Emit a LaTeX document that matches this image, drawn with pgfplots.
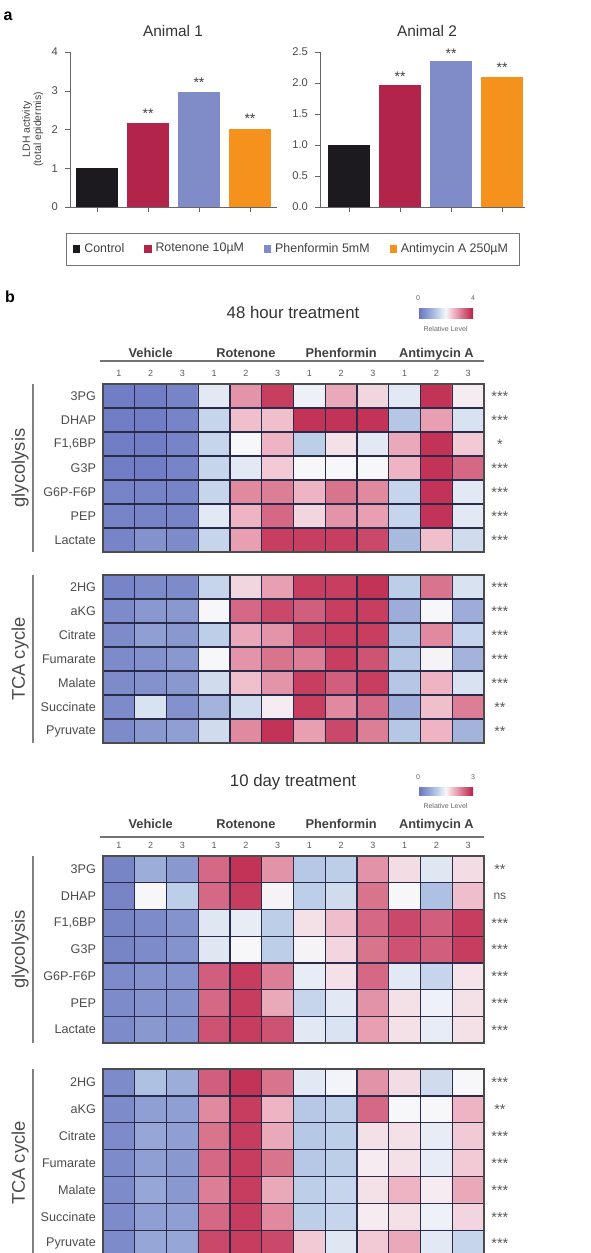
\documentclass[border=0pt]{standalone}
\usepackage{fontspec}
\setmainfont{Liberation Sans}
\usepackage{pgfplots}
\usepackage{pgfplotstable}
\pgfplotsset{compat=1.18}
\pgfkeys{/pgf/number format/assume math mode=true}
\definecolor{cCtrl}{RGB}{28,26,30}
\definecolor{cRot}{RGB}{178,36,74}
\definecolor{cPhe}{RGB}{128,140,200}
\definecolor{cAnt}{RGB}{245,146,30}
\definecolor{gridc}{RGB}{40,42,72}
\newcommand{\fs}[1]{\fontsize{#1}{#1}\selectfont}
\newcommand{\st}[2]{\node[font=\fs{7.2},text=black!65,yshift=-0.2pt] at (axis cs:12.0,#1) {#2};}
\newcommand{\grp}[1]{%
\node[font=\bfseries\fs{6.4}, text=black!75, anchor=base] at ([yshift=#1]axis cs:1,6.5) {Vehicle};
\node[font=\bfseries\fs{6.4}, text=black!75, anchor=base] at ([yshift=#1]axis cs:4,6.5) {Rotenone};
\node[font=\bfseries\fs{6.4}, text=black!75, anchor=base] at ([yshift=#1]axis cs:7,6.5) {Phenformin};
\node[font=\bfseries\fs{6.4}, text=black!75, anchor=base] at ([yshift=#1]axis cs:10,6.5) {Antimycin A};}

% 48 hour treatment, glycolysis (rows top to bottom: 3PG DHAP F1,6BP G3P G6P-F6P PEP Lactate)
\pgfplotstableread[row sep=\\]{
c\\
0.2\\0.2\\0.3\\1.8\\2.9\\3.7\\1.9\\2.7\\2.3\\1.8\\3.8\\2.1\\
0.2\\0.2\\0.3\\1.5\\2.5\\2.5\\3.8\\3.8\\3.8\\1.3\\2.8\\1.7\\
0.2\\0.2\\0.3\\1.5\\2.0\\2.6\\1.4\\2.2\\1.8\\2.7\\3.8\\2.4\\
0.2\\0.2\\0.3\\1.5\\1.8\\2.4\\2.0\\2.0\\2.0\\2.6\\3.8\\3.3\\
0.3\\0.3\\0.3\\1.5\\3.0\\3.1\\2.6\\3.2\\3.0\\1.5\\3.8\\1.8\\
0.3\\0.3\\0.3\\1.8\\2.6\\3.3\\2.3\\2.9\\2.8\\1.5\\3.8\\1.8\\
0.3\\0.5\\0.4\\1.5\\2.8\\3.7\\3.7\\3.7\\3.6\\1.1\\2.5\\1.6\\
}\tGa
% 48 hour treatment, TCA cycle (2HG aKG Citrate Fumarate Malate Succinate Pyruvate)
\pgfplotstableread[row sep=\\]{
c\\
0.3\\0.4\\0.4\\1.5\\2.3\\2.8\\3.7\\3.7\\3.8\\1.4\\3.2\\1.7\\
0.4\\0.6\\0.6\\2.0\\3.3\\3.6\\3.4\\3.7\\3.7\\0.9\\2.0\\0.9\\
0.4\\0.7\\0.6\\1.4\\2.7\\2.9\\3.6\\3.7\\3.7\\1.2\\3.0\\1.5\\
0.4\\0.5\\0.6\\2.0\\2.9\\3.2\\3.1\\3.7\\3.5\\1.3\\2.04\\1.0\\
0.4\\0.5\\0.6\\1.6\\2.5\\2.9\\3.7\\3.4\\3.7\\1.3\\2.6\\1.7\\
0.4\\1.7\\0.5\\1.0\\1.6\\2.1\\3.7\\3.0\\3.3\\0.9\\2.5\\3.1\\
0.4\\0.6\\0.7\\1.6\\3.0\\3.8\\2.8\\3.6\\3.1\\1.3\\2.6\\1.0\\
}\tTa
% 10 day treatment, glycolysis
\pgfplotstableread[row sep=\\]{
c\\
0.23\\0.68\\0.45\\2.48\\2.85\\2.18\\0.98\\1.05\\2.18\\1.68\\1.32\\1.68\\
0.23\\1.5\\1.05\\2.48\\2.78\\1.53\\1.05\\1.2\\2.4\\1.5\\0.9\\1.88\\
0.23\\0.3\\0.38\\1.32\\1.38\\1.05\\1.65\\1.88\\2.48\\2.7\\2.55\\2.78\\
0.23\\0.3\\0.38\\1.32\\1.5\\1.05\\1.53\\1.73\\2.4\\2.63\\2.55\\2.78\\
0.3\\0.38\\0.38\\2.55\\2.78\\2.33\\1.38\\1.65\\2.48\\1.35\\1.13\\1.62\\
0.3\\0.38\\0.38\\2.48\\2.78\\2.03\\1.13\\1.35\\2.18\\1.65\\1.43\\1.65\\
0.3\\0.45\\0.38\\2.63\\2.78\\2.63\\1.35\\1.28\\2.1\\1.65\\1.38\\1.65\\
}\tGb
% 10 day treatment, TCA cycle
\pgfplotstableread[row sep=\\]{
c\\
0.3\\0.9\\0.68\\2.55\\2.85\\2.4\\1.35\\1.47\\2.18\\1.68\\1.2\\1.5\\
0.3\\0.53\\0.53\\2.25\\2.78\\1.95\\0.98\\1.05\\2.48\\1.5\\1.5\\1.95\\
0.3\\0.6\\0.53\\2.4\\2.78\\2.03\\0.98\\1.05\\1.65\\1.65\\1.38\\1.8\\
0.3\\0.53\\0.45\\2.48\\2.78\\2.4\\0.98\\1.05\\1.58\\1.65\\1.38\\1.8\\
0.3\\0.6\\0.45\\2.33\\2.78\\2.03\\1.05\\1.13\\1.65\\1.95\\1.58\\2.03\\
0.3\\0.53\\0.53\\2.48\\2.78\\2.25\\1.05\\1.13\\1.58\\1.65\\1.43\\1.73\\
0.3\\0.6\\0.6\\2.7\\2.78\\2.7\\1.8\\1.32\\1.8\\2.03\\1.35\\1.13\\
}\tTb
% cell positions: column index and row (top row = 6)
\pgfplotstablecreatecol[expr={mod(\pgfplotstablerow,12)}]{x}\tGa
\pgfplotstablecreatecol[expr={6-floor(\pgfplotstablerow/12)}]{y}\tGa
\pgfplotstablecreatecol[expr={mod(\pgfplotstablerow,12)}]{x}\tTa
\pgfplotstablecreatecol[expr={6-floor(\pgfplotstablerow/12)}]{y}\tTa
\pgfplotstablecreatecol[expr={mod(\pgfplotstablerow,12)}]{x}\tGb
\pgfplotstablecreatecol[expr={6-floor(\pgfplotstablerow/12)}]{y}\tGb
\pgfplotstablecreatecol[expr={mod(\pgfplotstablerow,12)}]{x}\tTb
\pgfplotstablecreatecol[expr={6-floor(\pgfplotstablerow/12)}]{y}\tTb

\pgfplotsset{
  lg/.style={legend image code/.code={\fill[##1] (0pt,-1.8pt) rectangle (3.6pt,1.8pt);}},
  bars/.style={scale only axis, anchor=south west, height=77.5pt, ymin=0,
    enlargelimits=false, xtick={0,1,2,3}, xticklabels={},
    axis x line*=bottom, axis y line*=left, tick align=outside,
    major tick length=2.5pt, axis line style={draw=black!60},
    tick style={draw=black!60}, yticklabel style={font=\fs{5.6}, text=black!70},
    ybar, bar width=21pt, clip=false},
  hm/.style={scale only axis, anchor=south west, width=190.5pt,
    xmin=-0.5, xmax=11.5, ymin=-0.5, ymax=6.5, enlargelimits=false,
    axis on top, clip=false, xtick={0,...,11}, ytick={0,...,6},
    major tick length=0pt, minor tick length=0pt,
    minor xtick={0.5,1.5,...,10.5}, minor ytick={0.5,1.5,...,5.5},
    grid=minor, minor grid style={draw=gridc, line width=0.65pt},
    axis line style={draw=black!70, line width=0.7pt},
    yticklabel style={font=\fs{6.3}, text=black!70},
    xticklabel style={font=\fs{4.5}, text=black!65},
    colormap={hm}{rgb255(0cm)=(100,112,190); rgb255(7cm)=(188,206,232); rgb255(10cm)=(247,247,250); rgb255(13cm)=(238,180,195); rgb255(20cm)=(188,30,70)}},
  hmplot/.style={matrix plot*, mesh/cols=12, point meta=explicit},
  cbar/.style={anchor=center, scale only axis, width=27.5pt,
    xticklabel pos=upper, major tick length=0pt, axis line style={draw=none},
    xticklabel style={font=\fs{3.5}, text=black!60},
    xlabel={Relative Level},
    xlabel style={font=\fs{3.5}, text=black!60, at={(axis description cs:0.5,0)}, anchor=north, yshift=-0.5pt}},
}

\begin{document}
\begin{tikzpicture}
\useasboundingbox (0pt,0pt) rectangle (295pt,-626.5pt);

% ---------------- panel a ----------------
\node[font=\bfseries\fs{8}] at (4pt,-8pt) {a};
\node[font=\fs{7.7}, text=black!80] at (86.5pt,-15.5pt) {Animal 1};
\node[font=\fs{7.7}, text=black!80] at (213.5pt,-15.5pt) {Animal 2};

\begin{axis}[bars, at={(35pt,-103.5pt)}, width=103.5pt,
  xmin=-0.53, xmax=3.53, ymax=4, ytick={0,1,2,3,4},
  ylabel={LDH activity\\(total epidermis)},
  ylabel style={align=center, font=\fontsize{5.2}{5.6}\selectfont, text=black!75,
    at={(axis description cs:-0.18,0.5)}, anchor=center},
  legend columns=4,
  legend style={at={(axis description cs:1.075,-0.271)}, anchor=center,
    draw=black!55, font=\fs{6.2}, text=black!75, inner xsep=3.5pt, inner ysep=3pt,
    /tikz/every even column/.append style={column sep=8pt}}]
\addplot[fill=cCtrl, draw=none, bar shift=0pt, lg] coordinates {(0,1.0)};
\addplot[fill=cRot, draw=none, bar shift=0pt, lg] coordinates {(1,2.16)};
\addplot[fill=cPhe, draw=none, bar shift=0pt, lg] coordinates {(2,2.98)};
\addplot[fill=cAnt, draw=none, bar shift=0pt, lg] coordinates {(3,2.02)};
\legend{Control, Rotenone 10µM, Phenformin 5mM, Antimycin A 250µM}
\node[font=\fs{7}, text=black!75] at (axis cs:1,2.40) {**};
\node[font=\fs{7}, text=black!75] at (axis cs:2,3.22) {**};
\node[font=\fs{7}, text=black!75] at (axis cs:3,2.27) {**};
\end{axis}

\begin{axis}[bars, at={(160pt,-103.5pt)}, width=102.5pt,
  xmin=-0.57, xmax=3.45, ymax=2.5, ytick={0,0.5,1,1.5,2,2.5},
  yticklabel style={/pgf/number format/.cd, fixed, fixed zerofill, precision=1}]
\addplot[fill=cCtrl, draw=none, bar shift=0pt] coordinates {(0,1.0)};
\addplot[fill=cRot, draw=none, bar shift=0pt] coordinates {(1,1.97)};
\addplot[fill=cPhe, draw=none, bar shift=0pt] coordinates {(2,2.35)};
\addplot[fill=cAnt, draw=none, bar shift=0pt] coordinates {(3,2.09)};
\node[font=\fs{7}, text=black!75] at (axis cs:1,2.11) {**};
\node[font=\fs{7}, text=black!75] at (axis cs:2,2.48) {**};
\node[font=\fs{7}, text=black!75] at (axis cs:3,2.24) {**};
\end{axis}

% ---------------- panel b ----------------
\node[font=\bfseries\fs{8}] at (5pt,-148.5pt) {b};
\node[font=\fs{8.4}, text=black!80] at (146.5pt,-156pt) {48 hour treatment};
\node[font=\fs{8.4}, text=black!80] at (146.5pt,-391pt) {10 day treatment};

% 48 h glycolysis
\begin{axis}[hm, at={(51.5pt,-276pt)}, height=84pt,
  point meta min=0, point meta max=4,
  xticklabel pos=upper, xticklabels={1,2,3,1,2,3,1,2,3,1,2,3},
  yticklabels={Lactate,PEP,G6P-F6P,G3P,{F1,6BP},DHAP,3PG},
  colorbar horizontal,
  colorbar style={cbar, at={(0.899,1.4226)}, height=5pt, xtick={0,4}}]
\addplot[hmplot] table[x=x, y=y, meta=c] {\tGa};
\grp{13.5pt}
\draw[black!55, line width=0.6pt] ([yshift=11.5pt]axis cs:-0.6,6.5) -- ([yshift=11.5pt]axis cs:11.5,6.5);
\draw[black!50, line width=0.6pt] ([xshift=-35pt]axis cs:-0.5,-0.5) -- ([xshift=-35pt]axis cs:-0.5,6.5);
\node[rotate=90, font=\fs{9.2}, text=black!70] at ([xshift=-41.5pt]axis cs:-0.5,3) {glycolysis};
\st{6}{***}\st{5}{***}\st{4}{*}\st{3}{***}\st{2}{***}\st{1}{***}\st{0}{***}
\end{axis}

% 48 h TCA
\begin{axis}[hm, at={(51.5pt,-371.5pt)}, height=84pt,
  point meta min=0, point meta max=4, xticklabels={},
  yticklabels={Pyruvate,Succinate,Malate,Fumarate,Citrate,aKG,2HG}]
\addplot[hmplot] table[x=x, y=y, meta=c] {\tTa};
\draw[black!50, line width=0.6pt] ([xshift=-35pt]axis cs:-0.5,-0.5) -- ([xshift=-35pt]axis cs:-0.5,6.5);
\node[rotate=90, font=\fs{9.2}, text=black!70] at ([xshift=-41.5pt]axis cs:-0.5,3) {TCA cycle};
\st{6}{***}\st{5}{***}\st{4}{***}\st{3}{***}\st{2}{***}\st{1}{**}\st{0}{**}
\end{axis}

% 10 day glycolysis
\begin{axis}[hm, at={(51.5pt,-521.5pt)}, height=93.5pt,
  point meta min=0, point meta max=3,
  xticklabel pos=upper, xticklabels={1,2,3,1,2,3,1,2,3,1,2,3},
  yticklabels={Lactate,PEP,G6P-F6P,G3P,{F1,6BP},DHAP,3PG},
  colorbar horizontal,
  colorbar style={cbar, at={(0.899,1.3476)}, height=4pt, xtick={0,3}}]
\addplot[hmplot] table[x=x, y=y, meta=c] {\tGb};
\grp{14pt}
\draw[black!55, line width=0.6pt] ([yshift=9.5pt]axis cs:-0.6,6.5) -- ([yshift=9.5pt]axis cs:11.5,6.5);
\draw[black!50, line width=0.6pt] ([xshift=-35pt]axis cs:-0.5,-0.5) -- ([xshift=-35pt]axis cs:-0.5,6.5);
\node[rotate=90, font=\fs{9.2}, text=black!70] at ([xshift=-41.5pt]axis cs:-0.5,3) {glycolysis};
\st{6}{**}\node[font=\fs{6},text=black!65] at (axis cs:12.0,5) {ns};
\st{4}{***}\st{3}{***}\st{2}{***}\st{1}{***}\st{0}{***}
\end{axis}

% 10 day TCA
\begin{axis}[hm, at={(51.5pt,-628.5pt)}, height=94pt,
  point meta min=0, point meta max=3, xticklabels={},
  yticklabels={Pyruvate,Succinate,Malate,Fumarate,Citrate,aKG,2HG}]
\addplot[hmplot] table[x=x, y=y, meta=c] {\tTb};
\draw[black!50, line width=0.6pt] ([xshift=-35pt]axis cs:-0.5,-0.5) -- ([xshift=-35pt]axis cs:-0.5,6.5);
\node[rotate=90, font=\fs{9.2}, text=black!70] at ([xshift=-41.5pt]axis cs:-0.5,3) {TCA cycle};
\st{6}{***}\st{5}{**}\st{4}{***}\st{3}{***}\st{2}{***}\st{1}{***}\st{0}{***}
\end{axis}
\end{tikzpicture}
\end{document}
